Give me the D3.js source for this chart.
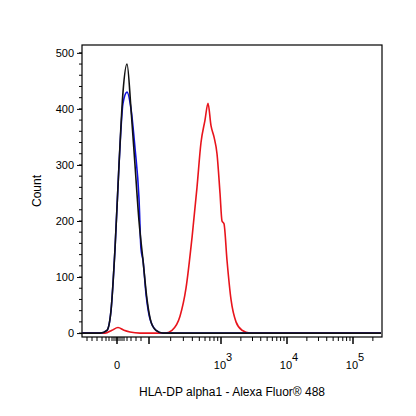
<!DOCTYPE html>
<html><head><meta charset="utf-8">
<script src="https://cdn.jsdelivr.net/npm/d3@7"></script>
<style>body{margin:0;background:#fff}text{font-family:"Liberation Sans",Arial,sans-serif}</style>
</head><body><div id="chart"></div>
<script>
// x in display channels (biexponential axis), y in counts
const blackX = [0,18,25,29,33,37,41,45,49,53,57,61,65,69,74,81,299];
const blackY = [0,0,5,40,150,300,430,480,400,300,200,130,60,20,5,0,0];
const blueX = [0,18,25,29,33,37,41,45,49,53,57,59,61,64,68,74,81,299];
const blueY = [0,0,5,40,150,300,410,430,400,330,240,150,130,70,25,5,0,0];
const redX = [0,23,30,36,42,48,58,83,90,98,104,110,115,119,123,126,129,132,135,138,140,142,145,149,154,160,168,299];
const redY = [0,0,5,10,5,2,0,0,5,30,80,170,260,340,380,410,370,350,320,250,200,195,130,60,20,5,0,0];
const yTicks = [0,100,200,300,400,500];
const xMajor = [{v:35,l:"0"},{v:67,l:""},{v:139,l:"3"},{v:205,l:"4"},{v:271,l:"5"}];

const W=416,H=416, L=82,R=382,T=45,B=337;
const svg=d3.select("#chart").append("svg").attr("width",W).attr("height",H);
const x=d3.scaleLinear().domain([0,300]).range([L,R]);
const y=d3.scaleLinear().domain([-7,514]).range([B,T]);

// minor ticks
const minor=[];
for(let d=0;d<3;d++){const a=xMajor[d+2].v,b=d<2?xMajor[d+3].v:a+66;for(let k=2;k<10;k++){const p=a+(b-a)*Math.log10(k);if(p<299)minor.push(p);}}
for(let k=2;k<10;k++)minor.push(67+72*Math.log10(k));
[5,10,15,20,24,27,30,32,34,36,38,40,42,45,49,54,59].forEach(v=>minor.push(v));

svg.append("rect").attr("x",L).attr("y",T).attr("width",R-L).attr("height",B-T).attr("fill","none").attr("stroke","#000").attr("stroke-width",1.2);

const ya=svg.append("g").attr("transform",`translate(${L},0)`)
  .call(d3.axisLeft(y).tickValues(yTicks).tickSize(5).tickFormat(d3.format("d")));
ya.select(".domain").remove();
ya.selectAll("text").attr("font-size",11).attr("fill","#000");
const ym=[];for(let v=0;v<=510;v+=20)ym.push(v);
svg.append("g").selectAll("line").data(ym).join("line").attr("x1",L-3).attr("x2",L).attr("y1",d=>y(d)).attr("y2",d=>y(d)).attr("stroke","#000");

const xa=svg.append("g").attr("transform",`translate(0,${B})`);
xa.selectAll(".mj").data(xMajor).join("line").attr("x1",d=>x(d.v)).attr("x2",d=>x(d.v)).attr("y1",0).attr("y2",7).attr("stroke","#000").attr("stroke-width",1.5);
xa.selectAll(".mn").data(minor).join("line").attr("x1",d=>x(d)).attr("x2",d=>x(d)).attr("y1",0).attr("y2",4).attr("stroke","#000");
xMajor.forEach(d=>{
  if(d.l==="0"){xa.append("text").attr("x",x(d.v)).attr("y",32).attr("text-anchor","middle").attr("font-size",11).text("0");}
  else if(d.l){const t=xa.append("text").attr("x",x(d.v)+2).attr("y",32).attr("text-anchor","middle").attr("font-size",11);
    t.append("tspan").text("10");t.append("tspan").attr("dy",-8).attr("font-size",11).text(d.l);}
});

const line=d3.line().curve(d3.curveMonotoneX).x(d=>x(d[0])).y(d=>y(d[1]));
const series=[[redX,redY,"#e8141c"],[blueX,blueY,"#1010e0"],[blackX,blackY,"#111"]];
series.forEach(s=>svg.append("path").datum(d3.zip(s[0],s[1])).attr("d",line).attr("fill","none").attr("stroke",s[2]).attr("stroke-width",1.6));

svg.append("text").attr("x",232).attr("y",396).attr("text-anchor","middle").attr("font-size",12).text("HLA-DP alpha1 - Alexa Fluor® 488");
svg.append("text").attr("transform",`translate(41,${(T+B)/2}) rotate(-90)`).attr("text-anchor","middle").attr("font-size",12).text("Count");
</script></body></html>
